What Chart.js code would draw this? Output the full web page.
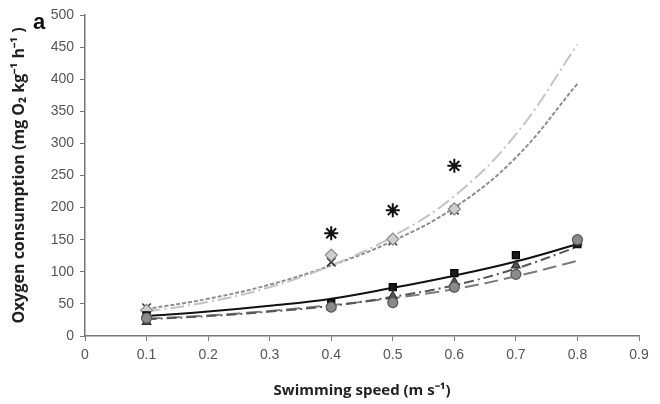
<!DOCTYPE html>
<html>
<head>
<meta charset="utf-8">
<script src="https://cdn.jsdelivr.net/npm/chart.js@4.4.1/dist/chart.umd.min.js"></script>
<style>
  html, body { margin: 0; padding: 0; background: #fff; }
  #wrap { width: 660px; height: 404px; }
</style>
</head>
<body>
<div id="wrap"><canvas id="oxyChart"></canvas></div>
<script>
// measured speeds (m/s)
const speeds = [0.1, 0.4, 0.5, 0.6, 0.7, 0.8];
const upperSpeeds = [0.1, 0.4, 0.5, 0.6];
const starSpeeds = [0.4, 0.5, 0.6];

// fitted curves read at each 0.1 step
const curveSpeeds = [0.1, 0.2, 0.3, 0.4, 0.5, 0.6, 0.7, 0.8];
const lightDashDot = [38, 53, 76, 110, 155, 218, 314, 454];
const greyDotted = [42, 58, 80, 110, 148, 200, 278, 393];
const blackSolid = [31, 38, 47, 58, 75, 94, 116, 143];
const darkDashDot = [26, 31, 38, 47, 61, 79, 105, 139];
const longDash = [27, 32, 39, 48, 59, 73, 93, 117];

// markers
const squares = [32, 51, 76, 98, 126, 143];
const circles = [28, 45, 52, 76, 96, 150];
const triangles = [22, 45, 62, 84, 110, 146];
const diamonds = [40, 126, 151, 198];
const crosses = [44, 115, 148, 196];
const stars = [160, 196, 265];

const yTicks = [0, 50, 100, 150, 200, 250, 300, 350, 400, 450, 500];

function pts(xs, ys) {
  return xs.map((x, i) => ({ x: x, y: ys[i] }));
}

function curve(data, color, dash) {
  return {
    data: pts(curveSpeeds, data),
    showLine: true,
    borderColor: color,
    borderWidth: 2,
    borderDash: dash,
    pointRadius: 0,
    tension: 0.4,
    fill: false
  };
}

function markers(xs, ys, style, fillCol, edgeCol, r, w) {
  return {
    data: pts(xs, ys),
    showLine: false,
    pointStyle: style,
    pointRadius: r,
    pointBackgroundColor: fillCol,
    pointBorderColor: edgeCol,
    pointBorderWidth: w || 1.2
  };
}

const panelLabel = {
  id: 'panelLabel',
  afterDraw(chart) {
    const c = chart.ctx;
    c.save();
    c.fillStyle = '#111';
    c.font = 'bold 22px "Liberation Sans", Arial, sans-serif';
    c.textAlign = 'left';
    c.textBaseline = 'alphabetic';
    c.fillText('a', 33, 29);
    c.restore();
  }
};

const ctx = document.getElementById('oxyChart').getContext('2d');
new Chart(ctx, {
  type: 'scatter',
  data: {
    datasets: [
      markers(speeds, circles, 'circle', '#8a8a8a', '#555', 5),
      markers(speeds, triangles, 'triangle', '#555', '#333', 5),
      markers(speeds, squares, 'rect', '#1a1a1a', '#000', 5),
      markers(upperSpeeds, diamonds, 'rectRot', '#cfcfcf', '#888', 6),
      markers(upperSpeeds, crosses, 'crossRot', '#fff', '#333', 6, 1.6),
      markers(starSpeeds, stars, 'star', '#000', '#111', 7, 2),
      curve(lightDashDot, '#c4c4c4', [14, 4, 2, 4]),
      curve(greyDotted, '#8e8e8e', [4, 2]),
      curve(blackSolid, '#111', []),
      curve(darkDashDot, '#555', [10, 4, 2, 4]),
      curve(longDash, '#7a7a7a', [14, 6])
    ]
  },
  plugins: [panelLabel],
  options: {
    responsive: true,
    maintainAspectRatio: false,
    animation: false,
    layout: { padding: { top: 15, right: 21, bottom: 0, left: 6 } },
    plugins: {
      legend: { display: false },
      tooltip: { enabled: false }
    },
    scales: {
      x: {
        type: 'linear',
        min: 0,
        max: 0.9,
        afterFit(scale) { scale.height = 68; },
        ticks: {
          stepSize: 0.1,
          color: '#555',
          padding: 6,
          font: { family: '"Liberation Sans", Arial, sans-serif', size: 14 },
          callback: v => (Math.round(v * 10) / 10).toString()
        },
        grid: { drawOnChartArea: false, drawTicks: true, tickLength: 5, color: '#777' },
        border: { color: '#777', width: 1.5 },
        title: {
          display: true,
          text: 'Swimming speed (m s\u207B\u00B9)',
          color: '#222',
          font: { family: '"Open Sans", sans-serif', size: 15, weight: 'bold' },
          padding: { top: 3 }
        }
      },
      y: {
        min: 0,
        max: 500,
        afterFit(scale) { scale.width = 79; },
        afterBuildTicks(scale) { scale.ticks = yTicks.map(v => ({ value: v })); },
        ticks: {
          color: '#555',
          padding: 6,
          font: { family: '"Liberation Sans", Arial, sans-serif', size: 14 }
        },
        grid: { drawOnChartArea: false, drawTicks: true, tickLength: 5, color: '#777' },
        border: { color: '#777', width: 1.5 },
        title: {
          display: true,
          text: 'Oxygen consumption (mg O\u2082 kg\u207B\u00B9 h\u207B\u00B9 )',
          color: '#222',
          font: { family: '"Open Sans", sans-serif', size: 16, weight: 'bold' },
          padding: { bottom: 2 }
        }
      }
    }
  }
});
</script>
</body>
</html>
